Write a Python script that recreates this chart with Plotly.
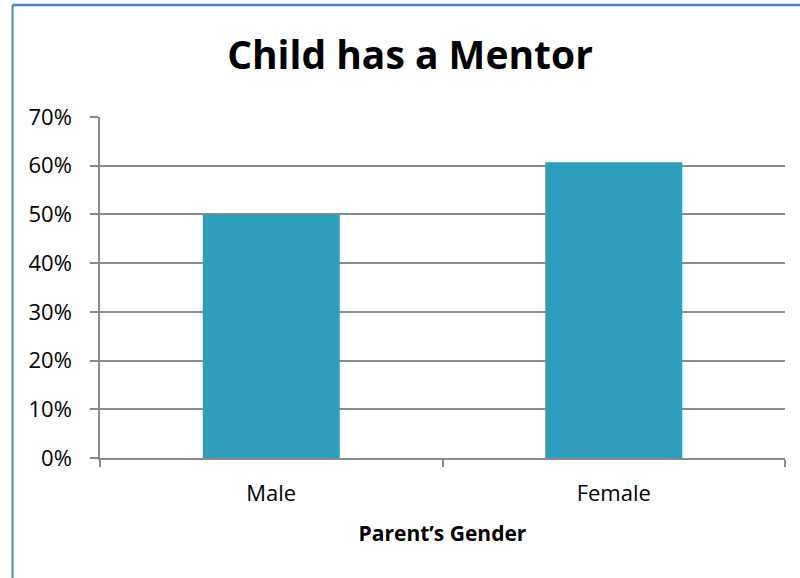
import plotly.graph_objects as go

categories = ["Male", "Female"]
values = [0.50, 0.607]
y_ticks = [0, 0.1, 0.2, 0.3, 0.4, 0.5, 0.6, 0.7]
y_tick_labels = ["0%", "10%", "20%", "30%", "40%", "50%", "60%", "70%"]

FONT = "Open Sans"

fig = go.Figure()
fig.add_trace(go.Bar(
    x=categories,
    y=values,
    width=0.4,
    marker=dict(color="#2e9ebd", line=dict(width=0)),
    hoverinfo="x+y",
))

fig.update_layout(
    width=800,
    height=578,
    margin=dict(l=100, r=15, t=117, b=120),
    paper_bgcolor="white",
    plot_bgcolor="white",
    showlegend=False,
    title=dict(
        text="<b>Child has a Mentor</b>",
        font=dict(family=FONT, size=39, color="black"),
        x=(410 - 100) / 685, xref="paper", xanchor="center",
        y=1 - 55 / 578, yref="container", yanchor="middle",
    ),
    xaxis=dict(
        type="category",
        showgrid=False,
        showline=True,
        linecolor="#8a8a8a",
        linewidth=1.5,
        ticks="outside",
        tickson="boundaries",
        ticklen=7,
        tickcolor="#8a8a8a",
        tickwidth=1.5,
        tickfont=dict(family=FONT, size=22, color="black"),
        ticklabelstandoff=15,
        title=dict(
            text="<b>Parent’s Gender</b>",
            font=dict(family=FONT, size=21, color="black"),
            standoff=20,
        ),
    ),
    yaxis=dict(
        range=[0, 0.7],
        tickvals=y_ticks,
        ticktext=y_tick_labels,
        showgrid=True,
        gridcolor="#8a8a8a",
        gridwidth=1.5,
        zeroline=False,
        showline=True,
        linecolor="#8a8a8a",
        linewidth=1.5,
        ticks="outside",
        ticklen=8,
        tickcolor="#8a8a8a",
        tickwidth=1.5,
        tickfont=dict(family=FONT, size=22, color="black"),
        ticklabelstandoff=14,
    ),
    shapes=[
        dict(type="line", xref="paper", yref="paper",
             x0=(12.5 - 100) / 685, x1=(800 - 100) / 685 + 0.05,
             y0=(458 - 5) / 341, y1=(458 - 5) / 341,
             line=dict(color="#4f81bd", width=2.5)),
        dict(type="line", xref="paper", yref="paper",
             x0=(12.5 - 100) / 685, x1=(12.5 - 100) / 685,
             y0=(458 - 5) / 341, y1=(458 - 600) / 341,
             line=dict(color="#4f81bd", width=2)),
    ],
)

fig.write_html(
    "out.html",
    config={"displayModeBar": False},
    post_script="document.body.style.margin='0';document.body.style.overflow='hidden';",
)
